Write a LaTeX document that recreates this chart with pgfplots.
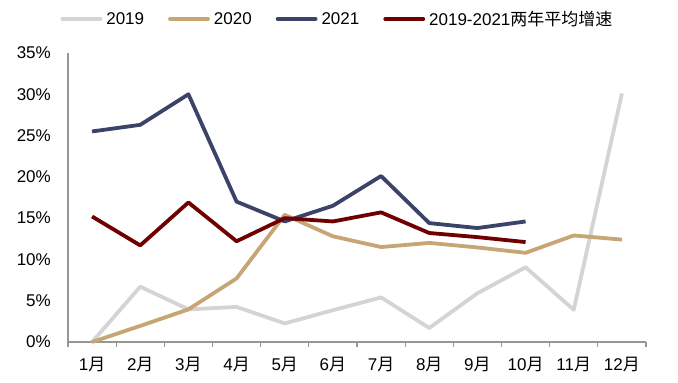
\documentclass[border=0pt]{standalone}
\usepackage{fontspec}
\setmainfont{Liberation Sans}
\newfontfamily\cjk{Noto Sans CJK SC}
\usepackage{pgfplots}
\pgfplotsset{compat=1.18}
\definecolor{cA}{RGB}{212,212,212}
\definecolor{cB}{RGB}{200,165,117}
\definecolor{cC}{RGB}{59,68,104}
\definecolor{cD}{RGB}{112,0,0}
\definecolor{axgray}{RGB}{150,150,150}
\newcommand{\yue}{{\cjk 月}}
\begin{document}
\begin{tikzpicture}
\begin{axis}[
  scale only axis,
  width=578pt, height=289pt,
  xmin=-0.5, xmax=11.5,
  ymin=0, ymax=35,
  clip=false,
  axis x line=bottom, axis y line=left,
  axis line style={-, draw=axgray, line width=1.2pt},
  font=\fontsize{17}{20}\selectfont,
  /pgf/number format/assume math mode=true,
  xtick={0,...,11},
  xticklabels={1\yue,2\yue,3\yue,4\yue,5\yue,6\yue,7\yue,8\yue,9\yue,10\yue,11\yue,12\yue},
  xticklabel style={anchor=base, inner sep=0pt, yshift=-28pt},
  ytick={0,5,...,35},
  yticklabel={\pgfmathprintnumber{\tick}\%},
  yticklabel style={inner sep=0pt, xshift=-17pt},
  major tick length=0pt,
  extra x ticks={-0.5,0.5,...,11.5},
  extra x tick labels={},
  extra tick style={major tick length=5pt, tick align=outside, tick style={draw=axgray, line width=1.2pt}},
  legend columns=4,
  legend style={at={(0.4645,1.1176)}, anchor=center, draw=none, fill=none,
    font=\fontsize{17}{20}\selectfont,
    nodes={inner sep=0pt},
    /tikz/every odd column/.append style={column sep=4pt},
    /tikz/every even column/.append style={column sep=24pt}},
  legend image code/.code={\draw[#1, line cap=round] (0pt,0pt) -- (38pt,0pt);},
  every axis plot/.append style={line join=round, line width=3.8pt},
]
\addplot[cA] coordinates {(0,0) (1,6.7) (2,3.95) (3,4.25) (4,2.25) (5,3.85) (6,5.4) (7,1.7) (8,5.9) (9,9.05) (10,3.9) (11,30.1)};
\addlegendentry{2019}
\addplot[cB] coordinates {(0,0) (1,1.95) (2,3.95) (3,7.7) (4,15.4) (5,12.8) (6,11.5) (7,12.0) (8,11.45) (9,10.8) (10,12.9) (11,12.4)};
\addlegendentry{2020}
\addplot[cC] coordinates {(0,25.5) (1,26.3) (2,30.0) (3,17.0) (4,14.6) (5,16.5) (6,20.1) (7,14.4) (8,13.8) (9,14.6)};
\addlegendentry{2021}
\addplot[cD] coordinates {(0,15.2) (1,11.7) (2,16.9) (3,12.2) (4,15.0) (5,14.6) (6,15.7) (7,13.2) (8,12.7) (9,12.1)};
\addlegendentry{2019-2021{\cjk 两年平均增速}}
\end{axis}
\pgfresetboundingbox
\path[use as bounding box] (current axis.south west) ++(-68pt,-41pt) rectangle ++(678pt,383pt);
\end{tikzpicture}
\end{document}
